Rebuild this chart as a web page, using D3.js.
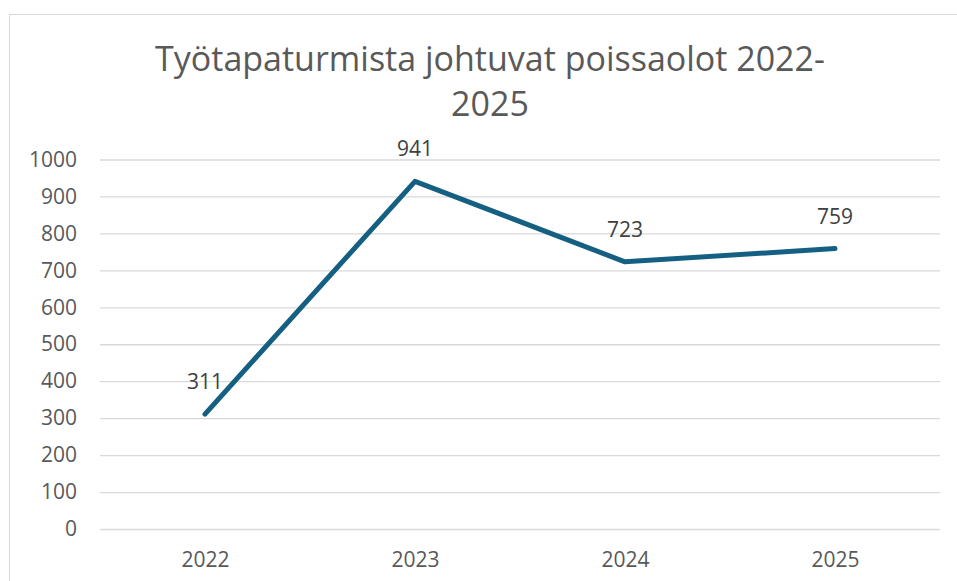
<!DOCTYPE html>
<html>
<head>
<meta charset="utf-8">
<script src="https://cdn.jsdelivr.net/npm/d3@7"></script>
<style>
  html, body { margin: 0; padding: 0; background: #fff; }
  svg { display: block; font-family: "Open Sans", sans-serif; }
</style>
</head>
<body>
<svg id="chart" width="957" height="581"></svg>
<script>
const titleLines = ['Työtapaturmista johtuvat poissaolot 2022-', '2025'];
const years = ['2022', '2023', '2024', '2025'];
const absences = [311, 941, 723, 759];
const yTicks = [0, 100, 200, 300, 400, 500, 600, 700, 800, 900, 1000];

const TEXT = '#595959';
const GRID = '#d9d9d9';
const LINE = '#156082';

const svg = d3.select('#chart');
const data = years.map((y, i) => ({ year: y, value: absences[i] }));

// chart frame (runs off right and bottom edges in the original)
svg.append('rect')
  .attr('x', 9.5).attr('y', 14.5)
  .attr('width', 1200).attr('height', 1200)
  .attr('fill', '#fff')
  .attr('stroke', GRID);

const x = d3.scalePoint().domain(years).range([100, 940]).padding(0.5);
const y = d3.scaleLinear().domain([0, 1000]).range([529, 159.5]);

// title
svg.append('text')
  .attr('x', 490).attr('y', 71)
  .attr('text-anchor', 'middle')
  .attr('fill', TEXT)
  .style('font-size', '34px')
  .selectAll('tspan')
  .data(titleLines)
  .join('tspan')
  .attr('x', 490)
  .attr('dy', (d, i) => i === 0 ? 0 : 45)
  .text(d => d);

// gridlines + y labels
const yAxis = svg.append('g')
  .attr('transform', 'translate(100,0)')
  .call(d3.axisLeft(y).tickValues(yTicks).tickSize(-840).tickPadding(23).tickFormat(d3.format('d')));
yAxis.select('.domain').remove();
yAxis.selectAll('.tick line').attr('stroke', GRID).attr('stroke-width', 1.3);
yAxis.selectAll('.tick text')
  .attr('fill', TEXT)
  .style('font-size', '21px')
  .style('font-family', '"Open Sans", sans-serif');

// x labels
const xAxis = svg.append('g')
  .attr('transform', 'translate(0,529)')
  .call(d3.axisBottom(x).tickSize(0).tickPadding(23));
xAxis.select('.domain').remove();
xAxis.selectAll('.tick text')
  .attr('fill', TEXT)
  .style('font-size', '21px')
  .style('font-family', '"Open Sans", sans-serif');

// series line
svg.append('path')
  .datum(data)
  .attr('fill', 'none')
  .attr('stroke', LINE)
  .attr('stroke-width', 5)
  .attr('stroke-linecap', 'round')
  .attr('stroke-linejoin', 'round')
  .attr('d', d3.line().x(d => x(d.year)).y(d => y(d.value)));

// data labels
svg.append('g')
  .selectAll('text')
  .data(data)
  .join('text')
  .attr('x', d => x(d.year))
  .attr('y', d => y(d.value) - 25)
  .attr('text-anchor', 'middle')
  .attr('fill', '#404040')
  .style('font-size', '21px')
  .text(d => d.value);
</script>
</body>
</html>
